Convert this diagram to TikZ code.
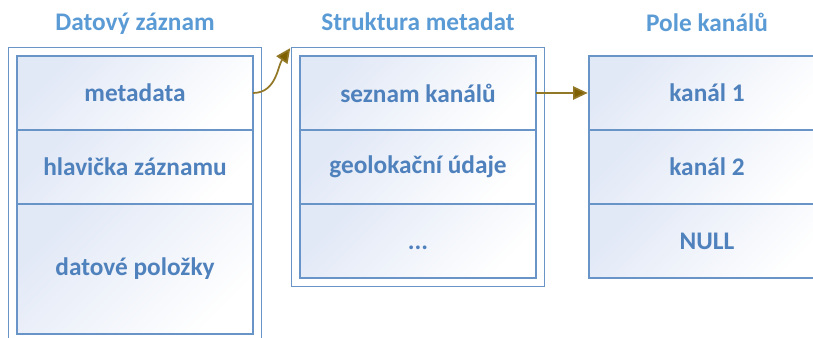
\documentclass[tikz,border=0pt]{standalone}
\usepackage{fontspec}
\setmainfont{Carlito}
\usetikzlibrary{arrows.meta,positioning,fit}
\definecolor{recBlue}{RGB}{79,129,189}
\definecolor{titleBlue}{RGB}{91,155,213}
\definecolor{cellTint}{RGB}{225,232,246}
\definecolor{linkGold}{RGB}{127,96,0}

\begin{document}
\begin{tikzpicture}[x=0.75pt,y=-0.75pt,
  every node/.style={font=\fontsize{19}{22}\selectfont\bfseries,text=recBlue},
  cell/.style={draw=recBlue!85,line width=1.3pt,top color=cellTint,bottom color=white,
    shading angle=45,minimum width=177pt,minimum height=55.5pt,inner sep=0pt,outer sep=0pt},
  frame/.style={draw=recBlue!85,line width=0.9pt,inner sep=6.3pt},
  heading/.style={text=titleBlue,anchor=base},
  link/.style={draw=linkGold!85,line width=1.3pt,shorten >=1pt,
    -{Triangle[length=11pt,width=10pt,fill=linkGold]}}]
  \clip (0,0) rectangle (813,338);
  % Datovy zaznam
  \node[cell] (meta) at (135,93) {metadata};
  \node[cell,below=0pt of meta] (head) {hlavička záznamu};
  \node[cell,below=0pt of head,minimum height=97.5pt] (items) {datové položky};
  \node[frame,fit=(meta)(items)] (rec) {};
  \node[heading] (recTitle) at ([yshift=12pt]rec.north) {Datový záznam};
  % Struktura metadat
  \node[cell] (list) at (418,93) {seznam kanálů};
  \node[cell,below=0pt of list] (geo) {geolokační údaje};
  \node[cell,below=0pt of geo] (more) {\vphantom{d}...};
  \node[frame,fit=(list)(more)] (struct) {};
  \node[heading] (structTitle) at ([yshift=12pt]struct.north) {Struktura metadat};
  % Pole kanalu
  \node[cell] (ch1) at (707,93) {kanál 1};
  \node[cell,below=0pt of ch1] (ch2) {kanál 2};
  \node[cell,below=0pt of ch2] (null) {NULL};
  \node[heading] (arrTitle) at ([yshift=18pt]ch1.north) {Pole kanálů};
  \draw[link] (meta.east) to[out=0,in=-125] (struct.north west);
  \draw[link] (list.east) -- (ch1.west);
\end{tikzpicture}
\end{document}
